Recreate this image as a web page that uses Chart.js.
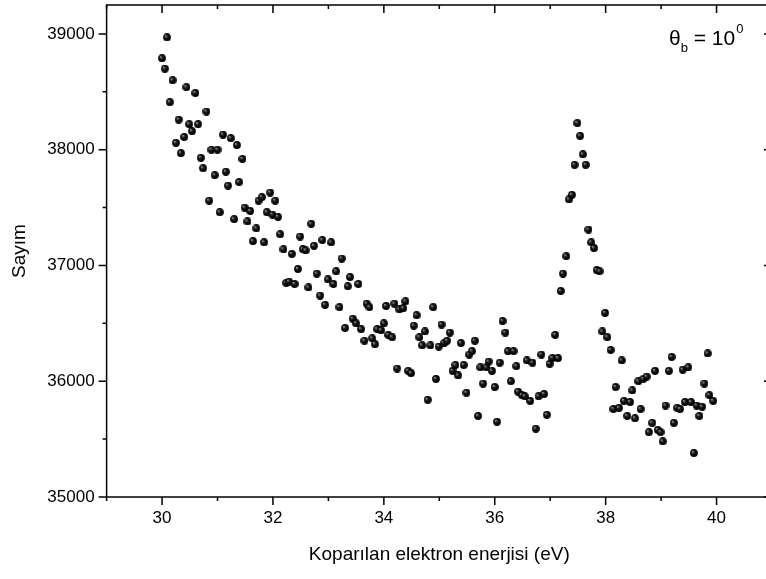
<!DOCTYPE html>
<html lang="tr">
<head>
    <meta charset="UTF-8">
    <title>Sayım - Koparılan elektron enerjisi</title>
    <script src="https://cdn.jsdelivr.net/npm/chart.js"></script>
    <style>
        body{
            margin: 0;
            background-color: white;
            overflow: hidden;
        }
    </style>
</head>
<body>
<canvas id="spektrum" width="780" height="579"></canvas>

<script>
    // okunan veriler (eV, sayım)
    const energy = [
        30.00, 30.05, 30.09, 30.14, 30.19, 30.25, 30.30, 30.34, 30.40, 30.44,
        30.49, 30.54, 30.60, 30.65, 30.70, 30.74, 30.80, 30.85, 30.89, 30.95,
        31.00, 31.04, 31.10, 31.15, 31.19, 31.24, 31.30, 31.35, 31.39, 31.45,
        31.49, 31.54, 31.59, 31.64, 31.70, 31.74, 31.80, 31.84, 31.89, 31.95,
        31.99, 32.04, 32.09, 32.13, 32.19, 32.24, 32.29, 32.34, 32.39, 32.45,
        32.49, 32.54, 32.59, 32.64, 32.69, 32.74, 32.79, 32.85, 32.89, 32.94,
        32.99, 33.05, 33.09, 33.14, 33.20, 33.24, 33.30, 33.35, 33.39, 33.44,
        33.50, 33.54, 33.59, 33.65, 33.69, 33.74, 33.79, 33.84, 33.88, 33.95,
        34.00, 34.04, 34.08, 34.15, 34.19, 34.24, 34.28, 34.35, 34.39, 34.44,
        34.49, 34.54, 34.59, 34.64, 34.69, 34.74, 34.79, 34.84, 34.89, 34.94,
        34.99, 35.04, 35.09, 35.14, 35.19, 35.24, 35.29, 35.34, 35.39, 35.44,
        35.49, 35.54, 35.59, 35.64, 35.70, 35.74, 35.79, 35.85, 35.89, 35.95,
        36.00, 36.04, 36.09, 36.14, 36.19, 36.24, 36.29, 36.34, 36.39, 36.42,
        36.49, 36.54, 36.58, 36.64, 36.68, 36.74, 36.79, 36.84, 36.89, 36.94,
        36.99, 37.04, 37.09, 37.14, 37.19, 37.23, 37.29, 37.34, 37.39, 37.44,
        37.49, 37.54, 37.59, 37.64, 37.69, 37.74, 37.79, 37.84, 37.89, 37.94,
        37.99, 38.03, 38.09, 38.14, 38.18, 38.24, 38.29, 38.33, 38.39, 38.44,
        38.48, 38.53, 38.59, 38.63, 38.68, 38.74, 38.78, 38.84, 38.89, 38.94,
        38.99, 39.03, 39.08, 39.14, 39.19, 39.23, 39.29, 39.34, 39.39, 39.43,
        39.49, 39.54, 39.59, 39.64, 39.69, 39.74, 39.78, 39.84, 39.87, 39.94
    ];
    const counts = [
        38790, 38700, 38970, 38410, 38600, 38060, 38260, 37970, 38110, 38540,
        38220, 38160, 38490, 38220, 37930, 37840, 38330, 37560, 38000, 37780,
        38000, 37460, 38130, 37810, 37690, 38100, 37400, 38040, 37720, 37920,
        37500, 37380, 37470, 37210, 37320, 37560, 37590, 37200, 37460, 37630,
        37440, 37560, 37420, 37270, 37140, 36850, 36860, 37100, 36840, 36970,
        37250, 37140, 37130, 36810, 37360, 37170, 36930, 36740, 37220, 36660,
        36880, 37200, 36840, 36950, 36640, 37060, 36460, 36820, 36900, 36540,
        36500, 36840, 36450, 36350, 36670, 36640, 36370, 36320, 36450, 36440,
        36500, 36650, 36400, 36380, 36670, 36110, 36620, 36630, 36690, 36090,
        36070, 36480, 36570, 36380, 36310, 36430, 35840, 36310, 36640, 36020,
        36300, 36490, 36330, 36350, 36420, 36090, 36140, 36050, 36330, 36140,
        35900, 36230, 36260, 36350, 35700, 36120, 35980, 36120, 36170, 36090,
        35950, 35650, 36160, 36520, 36420, 36260, 36000, 36260, 36130, 35910,
        35880, 35870, 36180, 35830, 36160, 35590, 35870, 36230, 35890, 35710,
        36150, 36200, 36400, 36200, 36780, 36930, 37080, 37570, 37610, 37870,
        38230, 38120, 37960, 37870, 37310, 37200, 37150, 36960, 36950, 36430,
        36590, 36380, 36270, 35760, 35950, 35770, 36180, 35830, 35700, 35820,
        35920, 35680, 36000, 35760, 36020, 36040, 35560, 35640, 36090, 35580,
        35560, 35480, 35790, 36090, 36210, 35640, 35770, 35760, 36100, 35820,
        36120, 35820, 35380, 35790, 35700, 35780, 35980, 36240, 35880, 35830
    ];
    const xTicks = [30, 32, 34, 36, 38, 40];
    const yTicks = [35000, 36000, 37000, 38000, 39000];

    const fontFamily = 'Arial, "Liberation Sans", sans-serif';

    // siyah, parlak küre şeklinde nokta
    function makeBall(d) {
        const c = document.createElement('canvas');
        c.width = d;
        c.height = d;
        const g = c.getContext('2d');
        const r = d / 2;
        const grad = g.createRadialGradient(r - 1.3, r - 1.3, 0.1, r, r, r);
        grad.addColorStop(0, '#e0e0e0');
        grad.addColorStop(0.22, '#3a3a3a');
        grad.addColorStop(0.55, '#0c0c0c');
        grad.addColorStop(1, '#000');
        g.fillStyle = grad;
        g.beginPath();
        g.arc(r, r, r - 0.1, 0, Math.PI * 2);
        g.fill();
        return c;
    }
    const ball = makeBall(8);

    // çerçeve ve tik çizgileri
    const frameTicks = {
        id: 'frameTicks',
        afterDraw(chart) {
            const ctx = chart.ctx;
            const a = chart.chartArea;
            const xs = chart.scales.x;
            const ys = chart.scales.y;
            const major = 8, minor = 4;
            ctx.save();
            ctx.strokeStyle = '#000';
            ctx.lineWidth = 1.5;
            ctx.strokeRect(a.left, a.top, a.right - a.left, a.bottom - a.top);
            ctx.beginPath();
            for (let v = xs.min; v <= xs.max; v += 1) {
                const px = xs.getPixelForValue(v);
                const len = xTicks.includes(v) ? major : minor;
                ctx.moveTo(px, a.bottom);
                ctx.lineTo(px, a.bottom + len);
                ctx.moveTo(px, a.top);
                ctx.lineTo(px, a.top + len);
            }
            for (let v = ys.min; v <= ys.max; v += 500) {
                const py = ys.getPixelForValue(v);
                const len = yTicks.includes(v) ? major : minor;
                ctx.moveTo(a.left, py);
                ctx.lineTo(a.left - len, py);
                ctx.moveTo(a.right, py);
                ctx.lineTo(a.right - len, py);
            }
            ctx.stroke();

            // θb = 10^0 yazısı
            ctx.fillStyle = '#000';
            ctx.textBaseline = 'alphabetic';
            let x = 669;
            const base = 45;
            ctx.font = '21px ' + fontFamily;
            ctx.fillText('θ', x, base);
            x += ctx.measureText('θ').width;
            ctx.font = '13px ' + fontFamily;
            ctx.fillText('b', x, base + 7);
            x += ctx.measureText('b').width;
            ctx.font = '21px ' + fontFamily;
            ctx.fillText(' = 10', x, base);
            x += ctx.measureText(' = 10').width + 1;
            ctx.font = '13px ' + fontFamily;
            ctx.fillText('0', x, base - 12);
            ctx.restore();
        }
    };

    const points = energy.map((e, i) => ({ x: e, y: counts[i] }));

    new Chart(document.getElementById('spektrum').getContext('2d'), {
        type: 'scatter',
        data: {
            datasets: [{
                label: 'Sayım',
                data: points,
                pointStyle: ball,
                pointRadius: 4,
                pointHoverRadius: 4
            }]
        },
        options: {
            responsive: false,
            animation: false,
            events: [],
            layout: { padding: { top: 4.5, right: 8, left: 0, bottom: 0 } },
            plugins: {
                legend: { display: false },
                tooltip: { enabled: false }
            },
            scales: {
                x: {
                    type: 'linear',
                    min: 29,
                    max: 41,
                    afterBuildTicks(scale) {
                        scale.ticks = xTicks.map(v => ({ value: v }));
                    },
                    afterFit(scale) {
                        scale.height = 82;
                        scale.paddingLeft = 0;
                        scale.paddingRight = 0;
                    },
                    grid: { display: false, drawTicks: false },
                    border: { display: false },
                    ticks: {
                        autoSkip: false,
                        maxRotation: 0,
                        padding: 11,
                        color: '#000',
                        font: { family: fontFamily, size: 17 },
                        callback: v => String(v)
                    },
                    title: {
                        display: true,
                        text: 'Koparılan elektron enerjisi (eV)',
                        color: '#000',
                        font: { family: fontFamily, size: 19 },
                        padding: { top: 0, bottom: 13 }
                    }
                },
                y: {
                    min: 35000,
                    max: 39250,
                    afterBuildTicks(scale) {
                        scale.ticks = yTicks.map(v => ({ value: v }));
                    },
                    afterFit(scale) {
                        scale.width = 106.6;
                        scale.paddingTop = 0;
                        scale.paddingBottom = 0;
                    },
                    grid: { display: false, drawTicks: false },
                    border: { display: false },
                    ticks: {
                        autoSkip: false,
                        padding: 12,
                        color: '#000',
                        font: { family: fontFamily, size: 17 },
                        callback: v => String(v)
                    },
                    title: {
                        display: true,
                        text: 'Sayım',
                        color: '#000',
                        font: { family: fontFamily, size: 19 },
                        padding: { top: 8, bottom: 0 }
                    }
                }
            }
        },
        plugins: [frameTicks]
    });
</script>
</body>
</html>
